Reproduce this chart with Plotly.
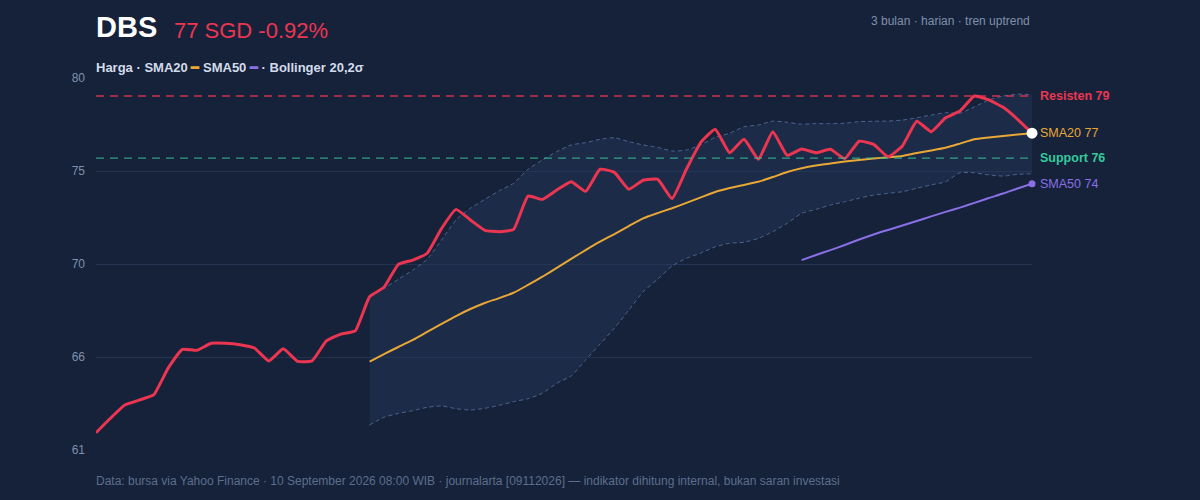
import plotly.graph_objects as go

# hari perdagangan (indeks), 66 hari ~ 3 bulan
days = list(range(66))

price = [61.88, 62.62, 63.30, 63.55, 63.81, 65.17, 66.14, 66.09, 66.45, 66.45,
         66.38, 66.21, 65.55, 66.17, 65.53, 65.55, 66.57, 66.92, 67.08, 68.83,
         69.31, 70.48, 70.70, 71.05, 72.32, 73.29, 72.75, 72.22, 72.15, 72.27,
         73.97, 73.80, 74.28, 74.70, 74.21, 75.34, 75.18, 74.32, 74.78, 74.83,
         73.84, 75.34, 76.71, 77.38, 76.18, 76.87, 75.85, 77.26, 76.05, 76.37,
         76.18, 76.36, 75.88, 76.77, 76.61, 75.98, 76.53, 77.79, 77.26, 77.97,
         78.31, 79.08, 78.88, 78.50, 77.89, 77.18]

sma20 = [None] * 19 + [
    65.51, 65.90, 66.26, 66.62, 67.03, 67.44, 67.84, 68.20, 68.51, 68.76,
    69.03, 69.43, 69.85, 70.30, 70.76, 71.21, 71.64, 72.03, 72.44, 72.83,
    73.10, 73.35, 73.62, 73.90, 74.18, 74.38, 74.54, 74.70, 74.94, 75.20,
    75.39, 75.53, 75.63, 75.73, 75.81, 75.89, 75.95, 76.02, 76.17, 76.30,
    76.44, 76.65, 76.87, 76.96, 77.04, 77.11, 77.18]

sma50 = [None] * 49 + [
    70.70, 70.96, 71.21, 71.47, 71.75, 72.01, 72.24, 72.47, 72.70, 72.93,
    73.16, 73.38, 73.62, 73.87, 74.10, 74.36, 74.60]

bb_upper = [None] * 19 + [
    68.92, 69.26, 69.72, 70.19, 70.74, 71.73, 72.75, 73.35, 73.80, 74.24,
    74.62, 75.34, 75.81, 76.24, 76.58, 76.70, 76.87, 76.95, 76.75, 76.58,
    76.46, 76.27, 76.32, 76.58, 76.97, 77.18, 77.51, 77.60, 77.80, 77.74,
    77.64, 77.67, 77.67, 77.69, 77.77, 77.79, 77.80, 77.85, 77.97, 78.11,
    78.23, 78.20, 78.53, 78.88, 79.08, 79.17, 79.15]

bb_lower = [None] * 19 + [
    62.28, 62.67, 62.87, 63.01, 63.18, 63.25, 63.11, 63.04, 63.13, 63.28,
    63.47, 63.62, 63.90, 64.41, 64.78, 65.60, 66.41, 67.22, 68.15, 69.09,
    69.72, 70.40, 70.79, 71.06, 71.38, 71.56, 71.61, 71.81, 72.15, 72.58,
    73.09, 73.29, 73.51, 73.68, 73.86, 74.02, 74.11, 74.19, 74.37, 74.54,
    74.70, 75.16, 75.16, 75.05, 74.99, 75.08, 75.11]

resist = 79.08
support = 75.91

tick_vals = [61, 65.75, 70.5, 75.25, 80]
tick_text = ["61", "66", "70", "75", "80"]

BG = "#15223a"
RED = "#ec3550"
ORANGE = "#e9a735"
PURPLE = "#8a6fe6"
GREEN = "#35c99a"
MUTED = "#8090ab"
BAND = "rgba(86,110,155,0.85)"

fig = go.Figure()

# Bollinger band
fig.add_trace(go.Scatter(x=days, y=bb_lower, mode="lines", showlegend=False,
                         line=dict(color=BAND, width=1, dash="4px,3px", shape="spline", smoothing=0.5),
                         hoverinfo="skip"))
fig.add_trace(go.Scatter(x=days, y=bb_upper, mode="lines", showlegend=False, fill="tonexty",
                         fillcolor="rgba(38,56,92,0.45)",
                         line=dict(color=BAND, width=1, dash="4px,3px", shape="spline", smoothing=0.5),
                         hoverinfo="skip"))

fig.add_hline(y=resist, line=dict(color="rgba(236,53,80,0.85)", width=1.3, dash="8px,6px"))
fig.add_hline(y=support, line=dict(color="rgba(53,201,154,0.75)", width=1.3, dash="8px,6px"))

fig.add_trace(go.Scatter(x=days, y=sma50, mode="lines", showlegend=False,
                         line=dict(color=PURPLE, width=2, shape="spline", smoothing=0.5)))
fig.add_trace(go.Scatter(x=[days[-1]], y=[sma50[-1]], mode="markers", showlegend=False, cliponaxis=False,
                         marker=dict(color=PURPLE, size=7)))
fig.add_trace(go.Scatter(x=days, y=sma20, mode="lines", showlegend=False,
                         line=dict(color=ORANGE, width=2, shape="spline", smoothing=0.5)))
fig.add_trace(go.Scatter(x=days, y=price, mode="lines", showlegend=False,
                         line=dict(color=RED, width=3, shape="spline", smoothing=0.4)))
fig.add_trace(go.Scatter(x=[days[-1]], y=[price[-1]], mode="markers", showlegend=False, cliponaxis=False,
                         marker=dict(color="white", size=11)))

ann = []
ann.append(dict(text="<b>DBS</b>", x=0, y=1, xref="paper", yref="paper", xanchor="left", yanchor="middle",
                yshift=51, xshift=-2, showarrow=False, font=dict(size=29, color="white")))
ann.append(dict(text="77 SGD -0.92%", x=0, y=1, xref="paper", yref="paper", xanchor="left", yanchor="middle",
                xshift=76, yshift=48, showarrow=False, font=dict(size=22, color=RED)))
ann.append(dict(text="3 bulan · harian · tren uptrend", x=1, y=1, xref="paper", yref="paper",
                xanchor="right", yanchor="middle", yshift=57, showarrow=False,
                font=dict(size=12, color=MUTED)))
ann.append(dict(text="<b>Harga · SMA20 <span style='color:%s'>━</span> SMA50 <span style='color:%s'>━</span> · Bollinger 20,2σ</b>" % (ORANGE, PURPLE),
                x=0, y=1, xref="paper", yref="paper", xanchor="left", yanchor="middle", yshift=11, xshift=-2,
                showarrow=False, font=dict(size=13, color="#d3dbea")))
ann.append(dict(text="Data: bursa via Yahoo Finance · 10 September 2026 08:00 WIB · journalarta [09112026] — indikator dihitung internal, bukan saran investasi",
                x=0, y=0, xref="paper", yref="paper", xanchor="left", yanchor="middle", yshift=-31, xshift=-2,
                showarrow=False, font=dict(size=12, color="#5d6e8c")))

right_labels = [("<b>Resisten 79</b>", resist, RED),
                ("SMA20 77", sma20[-1], ORANGE),
                ("<b>Support 76</b>", support, GREEN),
                ("SMA50 74", sma50[-1], PURPLE)]
for txt, yv, col in right_labels:
    ann.append(dict(text=txt, x=1, y=yv, xref="paper", yref="y", xanchor="left", yanchor="middle",
                    xshift=6, showarrow=False, font=dict(size=12.5, color=col)))

fig.update_layout(
    width=1200, height=500,
    paper_bgcolor=BG, plot_bgcolor=BG,
    margin=dict(l=96, r=168, t=78, b=50),
    font=dict(family="Liberation Sans, Arial, sans-serif", color=MUTED),
    annotations=ann,
    showlegend=False,
)
fig.update_xaxes(range=[days[0], days[-1]], showgrid=False, zeroline=False, showticklabels=False,
                 showline=False, ticks="")
fig.update_yaxes(range=[61, 80], tickvals=tick_vals, ticktext=tick_text, showgrid=True,
                 gridcolor="#243350", gridwidth=1, zeroline=False, showline=False,
                 tickfont=dict(size=12, color=MUTED), ticks="", ticklabelstandoff=10)

# page margin off so the chart sits at 0,0 like the reference
fig.write_html("out.html", config={"displayModeBar": False},
               post_script="document.body.style.margin='0';document.body.style.background='%s';" % BG)
